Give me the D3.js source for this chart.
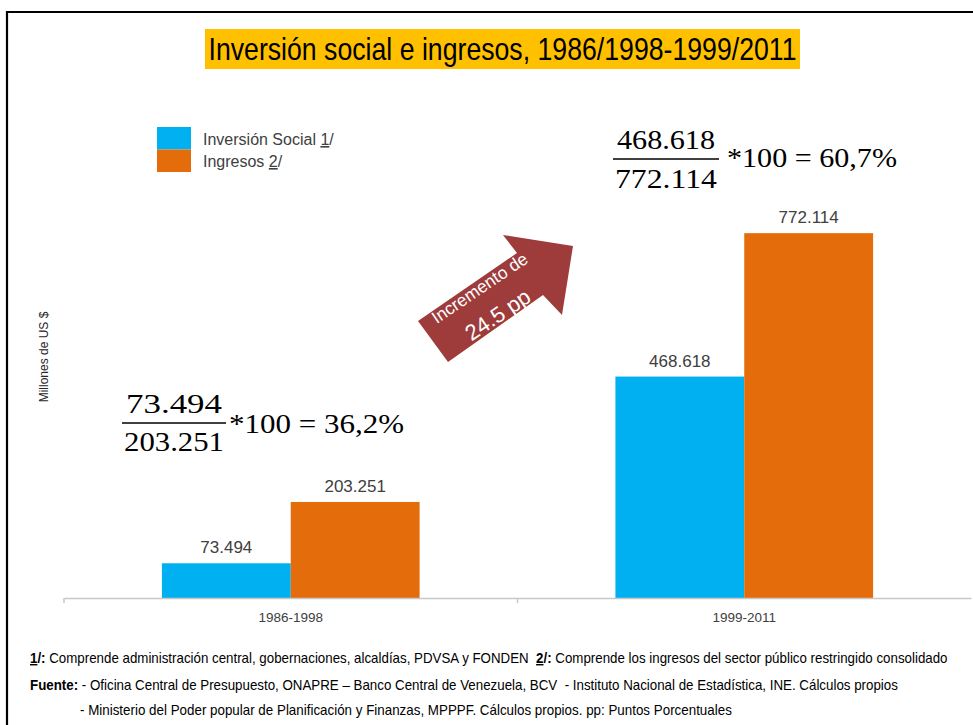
<!DOCTYPE html>
<html><head><meta charset="utf-8">
<script src="https://cdn.jsdelivr.net/npm/d3@7"></script>
<style>body{margin:0;background:#fff}svg{display:block}</style>
</head><body><svg id="c" width="973" height="725"></svg>
<script>
// ---- data ----
const categories = ["1986-1998", "1999-2011"];
const seriesNames = ["Inversión Social", "Ingresos"];
const seriesNotes = ["1", "2"];
const inversionSocial = [73494, 468618];
const ingresos = [203251, 772114];
const colors = ["#00B0F0", "#E46C0A"];
const titleText = "Inversión social e ingresos, 1986/1998-1999/2011";
const yLabel = "Millones de US $";

const svg = d3.select("#c");
const narrow = "'Liberation Sans Narrow','Arial Narrow','Liberation Sans',Arial,sans-serif";
const sans = "'Liberation Sans',Arial,sans-serif";
const serif = "'Liberation Serif','Times New Roman',serif";
const es = d3.formatLocale({decimal: ",", thousands: ".", grouping: [3], currency: ["", "$"]});
const fmtVal = es.format(",");
const fmtPct = es.format(".1f");

// squeeze a text element horizontally to a given width, starting at x
function fitWidth(t, x, y, w) {
  const n = t.node().getComputedTextLength();
  const s = w / n;
  t.attr("x", 0).attr("y", 0).attr("transform", `translate(${x},${y}) scale(${s},1)`);
}

// frame
svg.append("path").attr("d", "M7,725V12H973").attr("fill", "none").attr("stroke", "#000").attr("stroke-width", 2.2);

// title
svg.append("rect").attr("x", 205).attr("y", 29).attr("width", 595).attr("height", 40).attr("fill", "#FFC000");
svg.append("text").attr("x", 502.5).attr("y", 60).attr("text-anchor", "middle")
  .attr("font-family", narrow).attr("font-size", 32).attr("fill", "#000")
  .attr("textLength", 588).attr("lengthAdjust", "spacingAndGlyphs").text(titleText);

// scales
const x0 = d3.scaleBand().domain(categories).range([64, 971]).padding(0);
const x1 = d3.scaleBand().domain(seriesNames).range([0, x0.bandwidth()]).paddingInner(0).paddingOuter(0.76);
const y = d3.scaleLinear().domain([0, 800000]).range([598, 220]);

const rows = categories.map((c, i) => ({cat: c, vals: [inversionSocial[i], ingresos[i]]}));

// bars
const g = svg.append("g");
rows.forEach(r => {
  r.vals.forEach((v, k) => {
    const bx = x0(r.cat) + x1(seriesNames[k]);
    g.append("rect").attr("x", bx).attr("y", y(v)).attr("width", x1.bandwidth())
      .attr("height", y(0) - y(v)).attr("fill", colors[k]);
    g.append("text").attr("x", bx + x1.bandwidth() / 2).attr("y", y(v) - 10)
      .attr("text-anchor", "middle").attr("font-family", sans).attr("font-size", 17)
      .attr("fill", "#404040").text(fmtVal(v));
  });
});

// x axis
const ax = svg.append("g").attr("transform", `translate(0,${y(0)})`)
  .call(d3.axisBottom(x0).tickSize(0).tickPadding(14));
ax.select(".domain").attr("stroke", "#c8c8c8").attr("stroke-width", 1.5);
ax.selectAll("text").attr("font-family", narrow).attr("font-size", 13.5).attr("fill", "#404040");
const bounds = categories.map(c => x0(c));
ax.selectAll(".bt").data(bounds).enter().append("line").attr("class", "bt")
  .attr("x1", d => d).attr("x2", d => d).attr("y1", 0).attr("y2", 5)
  .attr("stroke", "#c8c8c8").attr("stroke-width", 1.5);

// y label
svg.append("text").attr("transform", "translate(48,357) rotate(-90)").attr("text-anchor", "middle")
  .attr("font-family", narrow).attr("font-size", 12).attr("fill", "#262626").text(yLabel);

// legend
seriesNames.forEach((s, k) => {
  svg.append("rect").attr("x", 157).attr("y", 127 + k * 22.5).attr("width", 34).attr("height", 22.5).attr("fill", colors[k]);
  const t = svg.append("text").attr("x", 203).attr("y", 145 + k * 22)
    .attr("font-family", sans).attr("font-size", 16).attr("fill", "#404040");
  t.append("tspan").text(s + " ");
  t.append("tspan").attr("text-decoration", "underline").text(seriesNotes[k]);
  t.append("tspan").text("/");
});

// formulas
const fpos = [
  {cx: 174, numY: 413, lineY: 423, x0: 122, x1: 226, denY: 451, restX: 229, restY: 433, restW: 175},
  {cx: 666, numY: 149, lineY: 159, x0: 613, x1: 719, denY: 188, restX: 727, restY: 167, restW: 170}
];
rows.forEach((r, i) => {
  const p = fpos[i];
  const pct = r.vals[0] / r.vals[1] * 100;
  const fg = svg.append("g").attr("font-family", serif).attr("fill", "#000").attr("font-size", 27);
  fg.append("text").attr("x", p.cx).attr("y", p.numY).attr("text-anchor", "middle")
    .attr("textLength", p.x1 - p.x0 - 8).attr("lengthAdjust", "spacingAndGlyphs").text(fmtVal(r.vals[0]));
  fg.append("line").attr("x1", p.x0).attr("x2", p.x1).attr("y1", p.lineY).attr("y2", p.lineY)
    .attr("stroke", "#000").attr("stroke-width", 1.3);
  fg.append("text").attr("x", p.cx).attr("y", p.denY).attr("text-anchor", "middle")
    .attr("textLength", p.x1 - p.x0 - 4).attr("lengthAdjust", "spacingAndGlyphs").text(fmtVal(r.vals[1]));
  fg.append("text").attr("x", p.restX).attr("y", p.restY)
    .attr("textLength", p.restW).attr("lengthAdjust", "spacingAndGlyphs")
    .text("*100 = " + fmtPct(pct) + "%");
});

// arrow
const pctA = +(inversionSocial[0] / ingresos[0] * 100).toFixed(1);
const pctB = +(inversionSocial[1] / ingresos[1] * 100).toFixed(1);
const incr = d3.format(".1f")(pctB - pctA);
svg.append("polygon")
  .attr("points", "418,321 517,253 503,235 573,246 562,315 543,295 448,362")
  .attr("fill", "#9E3B3B");
svg.append("text").attr("transform", "translate(483,293) rotate(-34)").attr("text-anchor", "middle")
  .attr("font-family", sans).attr("font-size", 17.5).attr("fill", "#fff").text("Incremento de");
svg.append("text").attr("transform", "translate(502,321) rotate(-34)").attr("text-anchor", "middle")
  .attr("font-family", sans).attr("font-size", 22).attr("fill", "#fff").text(incr + " pp");

// footnotes
const f1 = svg.append("text").attr("font-family", narrow).attr("font-size", 14).attr("fill", "#000")
  .attr("xml:space", "preserve");
f1.append("tspan").attr("font-weight", "bold").attr("text-decoration", "underline").text("1");
f1.append("tspan").attr("font-weight", "bold").text("/:");
f1.append("tspan").text(" Comprende administración central, gobernaciones, alcaldías, PDVSA y FONDEN\u00a0\u00a0");
f1.append("tspan").attr("font-weight", "bold").attr("text-decoration", "underline").text("2");
f1.append("tspan").attr("font-weight", "bold").text("/:");
f1.append("tspan").text(" Comprende los ingresos del sector público restringido consolidado");
fitWidth(f1, 30, 663, 918);

const f2 = svg.append("text").attr("font-family", narrow).attr("font-size", 14).attr("fill", "#000");
f2.append("tspan").attr("font-weight", "bold").text("Fuente:");
f2.append("tspan").text(" - Oficina Central de Presupuesto, ONAPRE – Banco Central de Venezuela, BCV\u00a0 - Instituto Nacional de Estadística, INE. Cálculos propios");
fitWidth(f2, 30, 690, 869);

const f3 = svg.append("text").attr("font-family", narrow).attr("font-size", 14).attr("fill", "#000")
  .text("- Ministerio del Poder popular de Planificación y Finanzas, MPPPF. Cálculos propios. pp: Puntos Porcentuales");
fitWidth(f3, 80, 715, 652);
</script></body></html>
